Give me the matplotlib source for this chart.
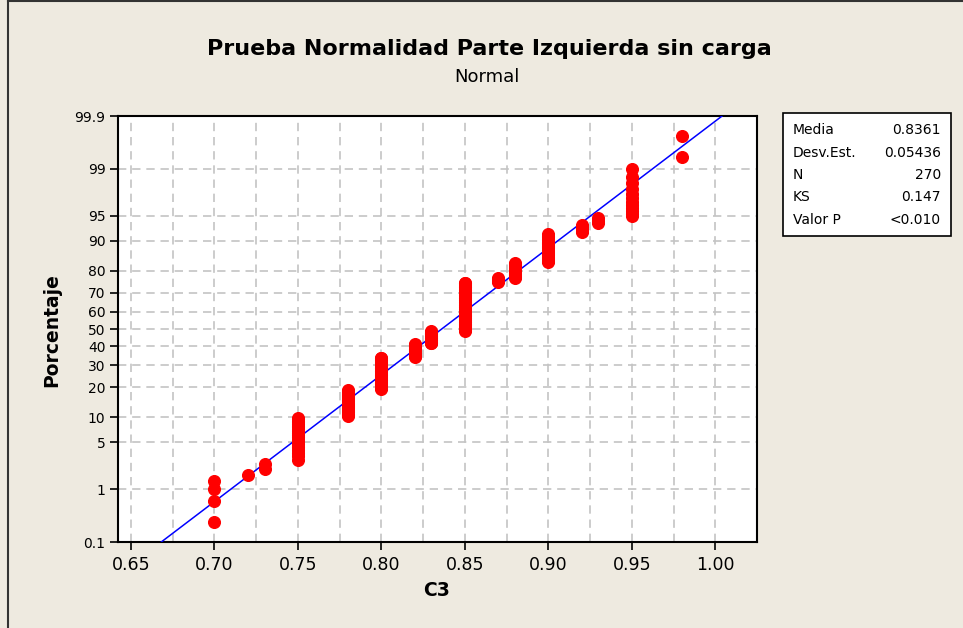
import numpy as np
import matplotlib
matplotlib.use("Agg")
import matplotlib.pyplot as plt
from matplotlib.patches import Rectangle
from matplotlib.lines import Line2D
from statistics import NormalDist

# ---- data ----
values = [0.70, 0.72, 0.73, 0.75, 0.78, 0.80, 0.82, 0.83, 0.85, 0.87, 0.88, 0.90, 0.92, 0.93, 0.95, 0.98]
counts = [4, 1, 2, 20, 24, 41, 20, 20, 71, 5, 17, 23, 5, 3, 12, 2]
mean = 0.8361
std = 0.05436
stat_labels = ["Media", "Desv.Est.", "N", "KS", "Valor P"]
stat_values = ["0.8361", "0.05436", "270", "0.147", "<0.010"]
x_ticks = [0.65, 0.70, 0.75, 0.80, 0.85, 0.90, 0.95, 1.00]
y_ticks = [0.1, 1, 5, 10, 20, 30, 40, 50, 60, 70, 80, 90, 95, 99, 99.9]
y_ticklabels = ["0.1", "1", "5", "10", "20", "30", "40", "50", "60", "70", "80", "90", "95", "99", "99.9"]
title = "Prueba Normalidad Parte Izquierda sin carga"
subtitle = "Normal"
xlabel = "C3"
ylabel = "Porcentaje"

# ---- sample + plotting positions (median ranks) ----
x = np.repeat(values, counts)
n = len(x)
ranks = np.arange(1, n + 1)
pct = (ranks - 0.3) / (n + 0.4) * 100

nd = NormalDist()
_inv = np.vectorize(lambda p: nd.inv_cdf(min(max(p / 100.0, 1e-12), 1 - 1e-12)), otypes=[float])
_cdf = np.vectorize(lambda z: nd.cdf(z) * 100.0, otypes=[float])

def fwd(p):
    return _inv(np.asarray(p, dtype=float))

def inv(z):
    return _cdf(np.asarray(z, dtype=float))

BG = "#EEEAE0"
fig = plt.figure(figsize=(9.63, 6.28), dpi=100, facecolor=BG)
ax = fig.add_axes([118 / 963, 1 - 542 / 628, (757 - 118) / 963, (542 - 116) / 628])
ax.set_facecolor("white")
ax.set_yscale("function", functions=(fwd, inv))
ax.set_ylim(0.1, 99.9)
ax.set_xlim(0.6422, 1.0233)

# fitted line
pl = np.array([0.1, 99.9])
zl = np.array([nd.inv_cdf(p / 100) for p in pl])
ax.plot(mean + std * zl, pl, color="#0000FF", lw=1.1, zorder=3)

# points
ax.plot(x, pct, "o", color="#FF0000", ms=8.4, mec="#FF0000", zorder=4)

# ticks / grid
ax.set_xticks(x_ticks)
ax.set_xticklabels([f"{t:.2f}" for t in x_ticks], fontsize=12.5)
ax.set_xticks(np.arange(0.65, 1.0251, 0.025), minor=True)
ax.set_yticks(y_ticks)
ax.set_yticklabels(y_ticklabels, fontsize=10)
ax.yaxis.set_minor_locator(matplotlib.ticker.NullLocator())
ax.tick_params(axis="x", which="major", direction="out", length=6, width=1.2, pad=4, colors="black")
ax.tick_params(axis="x", which="minor", length=0)
ax.tick_params(axis="y", which="major", direction="out", length=6, width=1.2, pad=3)
ax.grid(True, which="both", axis="x", color="#C4C4C4", ls=(0, (5, 3.5)), lw=1.2)
ax.grid(True, which="major", axis="y", color="#C4C4C4", ls=(0, (5, 3.5)), lw=1.2)
ax.set_axisbelow(True)
for s in ax.spines.values():
    s.set_linewidth(1.5)
    s.set_color("black")

# labels
fig.text(489 / 963, 1 - 49 / 628, title, ha="center", va="center", fontsize=16, fontweight="bold")
fig.text(487 / 963, 1 - 77 / 628, subtitle, ha="center", va="center", fontsize=13)
fig.text(437 / 963, 1 - 591 / 628, xlabel, ha="center", va="center", fontsize=13.5, fontweight="bold")
fig.text(52 / 963, 1 - 330 / 628, ylabel, ha="center", va="center", fontsize=13.5, fontweight="bold", rotation=90)

# stats box
fig.add_artist(Rectangle((783 / 963, 1 - 236 / 628), (951 - 783) / 963, (236 - 113) / 628,
                         transform=fig.transFigure, facecolor="white", edgecolor="black", lw=1.2))
rows_y = [130, 153, 175, 197, 220]
for lab, val, yy in zip(stat_labels, stat_values, rows_y):
    fig.text(793 / 963, 1 - yy / 628, lab, ha="left", va="center", fontsize=10)
    fig.text(941 / 963, 1 - yy / 628, val, ha="right", va="center", fontsize=10)

# outer frame (left and top edges)
fig.add_artist(Line2D([8 / 963, 8 / 963], [0, 1 - 1 / 628], transform=fig.transFigure, color="#333333", lw=1.5))
fig.add_artist(Line2D([8 / 963, 1], [1 - 1 / 628, 1 - 1 / 628], transform=fig.transFigure, color="#333333", lw=1.5))

fig.savefig("out.png", dpi=100, facecolor=BG)
